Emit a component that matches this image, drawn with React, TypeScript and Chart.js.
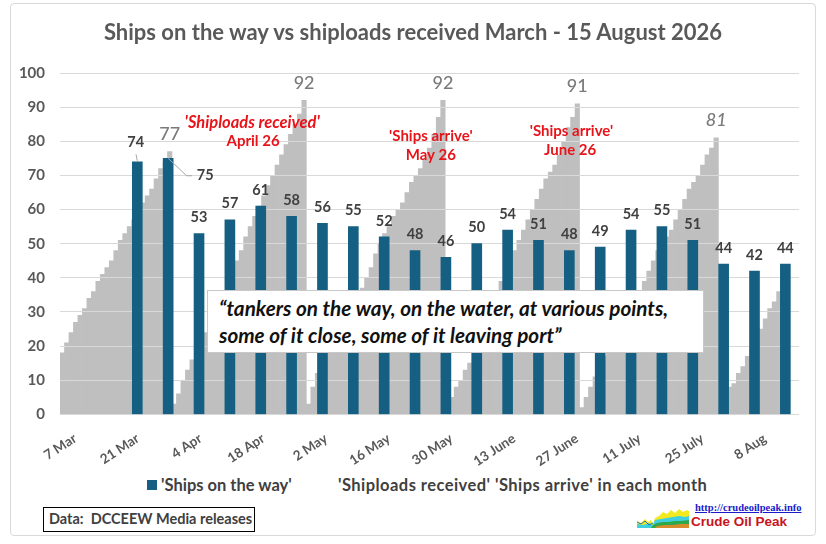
import React, { useEffect, useRef } from "react";
import { Chart, registerables } from "chart.js";

Chart.register(...registerables);

const FONT = "Lato, 'Open Sans', sans-serif";
const BLUE = "#156082";
const GREY = "#bfbfbf";
const GRID = "#d9d9d9";
const AXIS_TEXT = "#595959";
const RED = "#e8141a";

// ---- categories (daily, 7 Mar 2026 onwards) ----
const firstDay = { year: 2026, monthIndex: 2, day: 7 };
const dayCount = 165;
const monthNames = ["Jan", "Feb", "Mar", "Apr", "May", "June", "July", "Aug", "Sep", "Oct", "Nov", "Dec"];
const xTickLabels = ["7 Mar", "21 Mar", "4 Apr", "18 Apr", "2 May", "16 May", "30 May", "13 June", "27 June", "11 July", "25 July", "8 Aug"];

// ---- grey series: cumulative shiploads received / ships arrive in each month ----
const marchShiploadsReceived = [18, 21, 24, 27, 29, 31, 34, 36, 39, 41, 43, 45, 48, 51, 53, 55, 57, 60, 62, 64, 66, 69, 72, 74, 77];
const aprilShiploadsReceived = [3, 6, 10, 13, 16, 19, 21, 24, 27, 30, 33, 36, 39, 42, 45, 48, 52, 55, 58, 61, 64, 67, 70, 73, 76, 79, 82, 85, 88, 92];
const mayShipsArrive = [3, 8, 12, 15, 18, 21, 24, 27, 29, 31, 33, 35, 37, 40, 43, 47, 50, 53, 55, 58, 60, 62, 65, 68, 70, 72, 75, 78, 82, 87, 92];
const juneShipsArrive = [3, 5, 8, 10, 13, 15, 18, 21, 24, 28, 32, 36, 39, 42, 45, 48, 51, 54, 57, 60, 63, 66, 69, 71, 73, 76, 80, 84, 87, 91];
const julyShipsArrive = [2, 5, 8, 11, 14, 17, 20, 22, 24, 27, 29, 31, 34, 36, 39, 42, 45, 48, 50, 52, 54, 57, 60, 63, 66, 68, 70, 73, 76, 78, 81];
const augustShipsArrive = [4, 6, 8, 9, 12, 14, 17, 19, 22, 25, 28, 31, 33, 36, 38];
const afterLastRelease = [null, null, null];

// ---- blue series: weekly 'Ships on the way' ----
const shipsOnTheWayWeeks = ["wk1", "wk2", "wk3", "wk4", "wk5", "wk6", "wk7", "wk8", "wk9", "wk10", "wk11", "wk12", "wk13", "wk14", "wk15", "wk16", "wk17", "wk18", "wk19", "wk20", "wk21", "wk22"];
const shipsOnTheWay = [74, 75, 53, 57, 61, 58, 56, 55, 52, 48, 46, 50, 54, 51, 48, 49, 54, 55, 51, 44, 42, 44];

// ---- red notes, anchored in (day index, value) ----
const noteLines = [
  { text: "'Shiploads received'", day: 42.4, value: 85.5, italic: true },
  { text: "April 26", day: 42.6, value: 80.0, italic: false },
  { text: "'Ships arrive'", day: 82.3, value: 81.4, italic: false },
  { text: "May 26", day: 82.3, value: 75.8, italic: false },
  { text: "'Ships arrive'", day: 113.7, value: 82.9, italic: false },
  { text: "June 26", day: 113.4, value: 77.3, italic: false },
];

const yTicks = { min: 0, max: 100, step: 10 };

const dayLabels: string[] = [];
for (let i = 0; i < dayCount; i++) {
  const d = new Date(Date.UTC(firstDay.year, firstDay.monthIndex, firstDay.day + i));
  dayLabels.push(`${d.getUTCDate()} ${monthNames[d.getUTCMonth()]}`);
}

const shiploads = [
  ...marchShiploadsReceived,
  ...aprilShiploadsReceived,
  ...mayShipsArrive,
  ...juneShipsArrive,
  ...julyShipsArrive,
  ...augustShipsArrive,
  ...afterLastRelease,
];

function align(chart: any, px: number, w: number) {
  const dpr = chart.currentDevicePixelRatio || 1;
  const h = w / 2;
  return Math.round((px - h) * dpr) / dpr + h;
}

const overlayPlugin = {
  id: "overlay",
  afterDatasetDraw(chart: any, args: any) {
    if (args.index !== 1) return;
    const { ctx, chartArea, scales } = chart;
    ctx.save();
    ctx.strokeStyle = GRID;
    ctx.lineWidth = 1;
    scales.y.ticks.forEach((t: any) => {
      const y = align(chart, scales.y.getPixelForValue(t.value), 1);
      ctx.beginPath();
      ctx.moveTo(chartArea.left, y);
      ctx.lineTo(chartArea.right, y);
      ctx.stroke();
    });
    ctx.restore();
  },
  afterDatasetsDraw(chart: any) {
    const { ctx, scales } = chart;
    ctx.save();
    ctx.textAlign = "center";
    ctx.textBaseline = "middle";

    // grey peaks
    const greyMeta = chart.getDatasetMeta(1);
    const greyData = chart.data.datasets[1].data as (number | null)[];
    const peaks: number[] = [];
    greyData.forEach((v, i) => {
      const n = greyData[i + 1];
      if (v != null && n != null && n < v) peaks.push(i);
    });
    peaks.forEach((i, k) => {
      const el = greyMeta.data[i];
      const last = k === peaks.length - 1;
      ctx.font = `${last ? "italic " : ""}500 18px ${FONT}`;
      ctx.fillStyle = "#7a7a7a";
      ctx.fillText(String(greyData[i]), el.x, el.y - 17.5);
    });

    // blue labels
    const blueMeta = chart.getDatasetMeta(0);
    ctx.font = `bold 14.5px ${FONT}`;
    ctx.fillStyle = "#404040";
    blueMeta.data.forEach((el: any, i: number) => {
      const v = shipsOnTheWay[i];
      if (i === 0) {
        ctx.strokeStyle = "#a6a6a6";
        ctx.lineWidth = 1;
        ctx.beginPath();
        ctx.moveTo(el.x, el.y - 1);
        ctx.lineTo(el.x - 1.3, el.y - 7.5);
        ctx.stroke();
        ctx.fillText(String(v), el.x - 1.6, el.y - 19.5);
      } else if (i === 1) {
        ctx.strokeStyle = "#a6a6a6";
        ctx.lineWidth = 1;
        ctx.beginPath();
        ctx.moveTo(el.x, el.y);
        ctx.lineTo(el.x + 18.5, el.y + 17.4);
        ctx.lineTo(el.x + 24, el.y + 17.4);
        ctx.stroke();
        ctx.fillText(String(v), el.x + 37, el.y + 17.4);
      } else {
        ctx.fillText(String(v), el.x, el.y - 16);
      }
    });

    // red notes
    ctx.fillStyle = RED;
    noteLines.forEach((n) => {
      ctx.font = `${n.italic ? "italic bold 16.5px" : "bold 15px"} ${FONT}`;
      ctx.fillText(n.text, scales.x.getPixelForValue(n.day), scales.y.getPixelForValue(n.value));
    });
    ctx.restore();
  },
};

function ChartCanvas() {
  const ref = useRef<HTMLCanvasElement | null>(null);
  useEffect(() => {
    if (!ref.current) return;
    const chart = new Chart(ref.current, {
      type: "bar",
      data: {
        labels: dayLabels,
        datasets: [
          {
            label: "'Ships on the way'",
            data: shipsOnTheWay.map((v, i) => ({ x: i, y: v })),
            backgroundColor: BLUE,
            xAxisID: "x2",
            yAxisID: "y",
            barThickness: 10,
            grouped: false,
            borderWidth: 0,
          } as any,
          {
            label: "'Shiploads received' 'Ships arrive' in each month",
            data: shiploads,
            backgroundColor: GREY,
            xAxisID: "x",
            yAxisID: "y",
            barPercentage: 1,
            categoryPercentage: 1,
            grouped: false,
            borderWidth: 0,
          } as any,
        ],
      },
      options: {
        animation: false,
        responsive: false,
        events: [],
        layout: { padding: { left: 10, right: 27, top: 73, bottom: 0 } },
        plugins: {
          legend: { display: false },
          title: { display: false },
          tooltip: { enabled: false },
        },
        scales: {
          x: {
            type: "category",
            offset: true,
            grid: { display: false },
            border: { display: false },
            ticks: {
              autoSkip: false,
              minRotation: 33,
              maxRotation: 33,
              padding: 8,
              labelOffset: 13,
              color: AXIS_TEXT,
              font: { family: FONT, size: 13.5, weight: "bold" },
              callback: function (this: any, val: any) {
                const l = this.getLabelForValue(val);
                return xTickLabels.includes(l) ? l : null;
              },
            },
            afterFit: (s: any) => {
              s.height = 470 - 414.4;
            },
          },
          x2: {
            type: "linear",
            display: false,
            offset: false,
            min: -2.505,
            max: 21.442,
            grid: { display: false },
          },
          y: {
            min: yTicks.min,
            max: yTicks.max,
            grid: { color: GRID, lineWidth: 1, drawTicks: false },
            border: { display: false },
            ticks: {
              stepSize: yTicks.step,
              padding: 15,
              color: AXIS_TEXT,
              font: { family: FONT, size: 15, weight: "bold" },
            },
            afterFit: (s: any) => {
              s.width = 50;
            },
          },
        },
      } as any,
      plugins: [overlayPlugin],
    });
    return () => chart.destroy();
  }, []);
  return <canvas ref={ref} width={826} height={470} style={{ position: "absolute", left: 0, top: 0, width: 826, height: 470 }} />;
}

function Logo() {
  return (
    <svg width={52} height={24} viewBox="0 0 52 24" style={{ position: "absolute", left: 637, top: 504 }}>
      <polygon points="0,24 0,17 4,19 8,15 11,18 14,16 16,20 18,14 22,12 26,8 30,10 34,6 38,9 42,5 46,8 50,6 52,7 52,24" fill="#f2ea1f" />
      <polygon points="0,24 0,20 6,21 12,19 16,21 18,16 24,15 30,14 36,13 42,12 48,13 52,12 52,24" fill="#3fd0e0" />
      <polygon points="14,24 16,21 20,19 26,18 32,18 38,17 44,17 52,16 52,24" fill="#2fa84a" />
      <polygon points="18,24 20,22 28,21 36,21 44,20 52,20 52,24" fill="#d98c2b" />
      <polyline points="0,18 4,20 8,17 12,21 16,19" fill="none" stroke="#2a6fb0" strokeWidth={1} />
    </svg>
  );
}

export default function App() {
  return (
    <div
      style={{
        position: "fixed",
        left: 0,
        top: 0,
        width: 826,
        height: 544,
        background: "#ffffff",
        fontFamily: FONT,
        overflow: "hidden",
      }}
    >
      <div
        style={{
          position: "absolute",
          left: 10,
          top: 3,
          width: 806,
          height: 533,
          border: "1px solid #d9d9d9",
          borderRadius: 4,
          boxSizing: "border-box",
        }}
      />
      <ChartCanvas />
      <div
        style={{
          position: "absolute",
          left: 0,
          top: 18,
          width: 826,
          textAlign: "center",
          fontSize: 22,
          lineHeight: "28px",
          fontWeight: 700,
          color: AXIS_TEXT,
        }}
      >
        Ships on the way vs shiploads received March - 15 August 2026
      </div>
      <div
        style={{
          position: "absolute",
          left: 207,
          top: 290,
          width: 497,
          height: 63,
          boxSizing: "border-box",
          background: "#ffffff",
          border: "1px solid #c8c8c8",
          padding: "4px 0 0 11px",
          fontSize: 20.7,
          lineHeight: "27px",
          fontWeight: 700,
          fontStyle: "italic",
          color: "#111111",
          whiteSpace: "nowrap",
        }}
      >
        “tankers on the way, on the water, at various points,
        <br />
        some of it close, some of it leaving port”
      </div>
      <div style={{ position: "absolute", left: 147, top: 480, width: 10, height: 10, background: BLUE }} />
      <div
        style={{
          position: "absolute",
          left: 161,
          top: 474,
          fontSize: 16.5,
          lineHeight: "22px",
          fontWeight: 700,
          color: "#404040",
          whiteSpace: "nowrap",
        }}
      >
        'Ships on the way'
      </div>
      <div
        style={{
          position: "absolute",
          left: 338,
          top: 474,
          fontSize: 16.5,
          lineHeight: "22px",
          fontWeight: 700,
          letterSpacing: 0.45,
          color: "#404040",
          whiteSpace: "nowrap",
        }}
      >
        'Shiploads received' 'Ships arrive' in each month
      </div>
      <div
        style={{
          position: "absolute",
          left: 43,
          top: 507,
          width: 212,
          height: 25,
          boxSizing: "border-box",
          border: "1.5px solid #000000",
          paddingLeft: 5,
          fontSize: 14.5,
          lineHeight: "22px",
          fontWeight: 700,
          color: "#404040",
          whiteSpace: "pre",
        }}
      >
        {"Data:  DCCEEW Media releases"}
      </div>
      <Logo />
      <div
        style={{
          position: "absolute",
          left: 695,
          top: 501,
          fontFamily: "'Liberation Serif', 'DejaVu Serif', serif",
          fontSize: 10.5,
          lineHeight: "13px",
          fontWeight: 700,
          color: "#1a1acc",
          textDecoration: "underline",
          whiteSpace: "nowrap",
        }}
      >
        http://crudeoilpeak.info
      </div>
      <div
        style={{
          position: "absolute",
          left: 691,
          top: 513,
          fontFamily: "'Liberation Sans', Arial, sans-serif",
          fontSize: 13.5,
          lineHeight: "18px",
          fontWeight: 700,
          color: "#c8141e",
          whiteSpace: "nowrap",
        }}
      >
        Crude Oil Peak
      </div>
    </div>
  );
}
